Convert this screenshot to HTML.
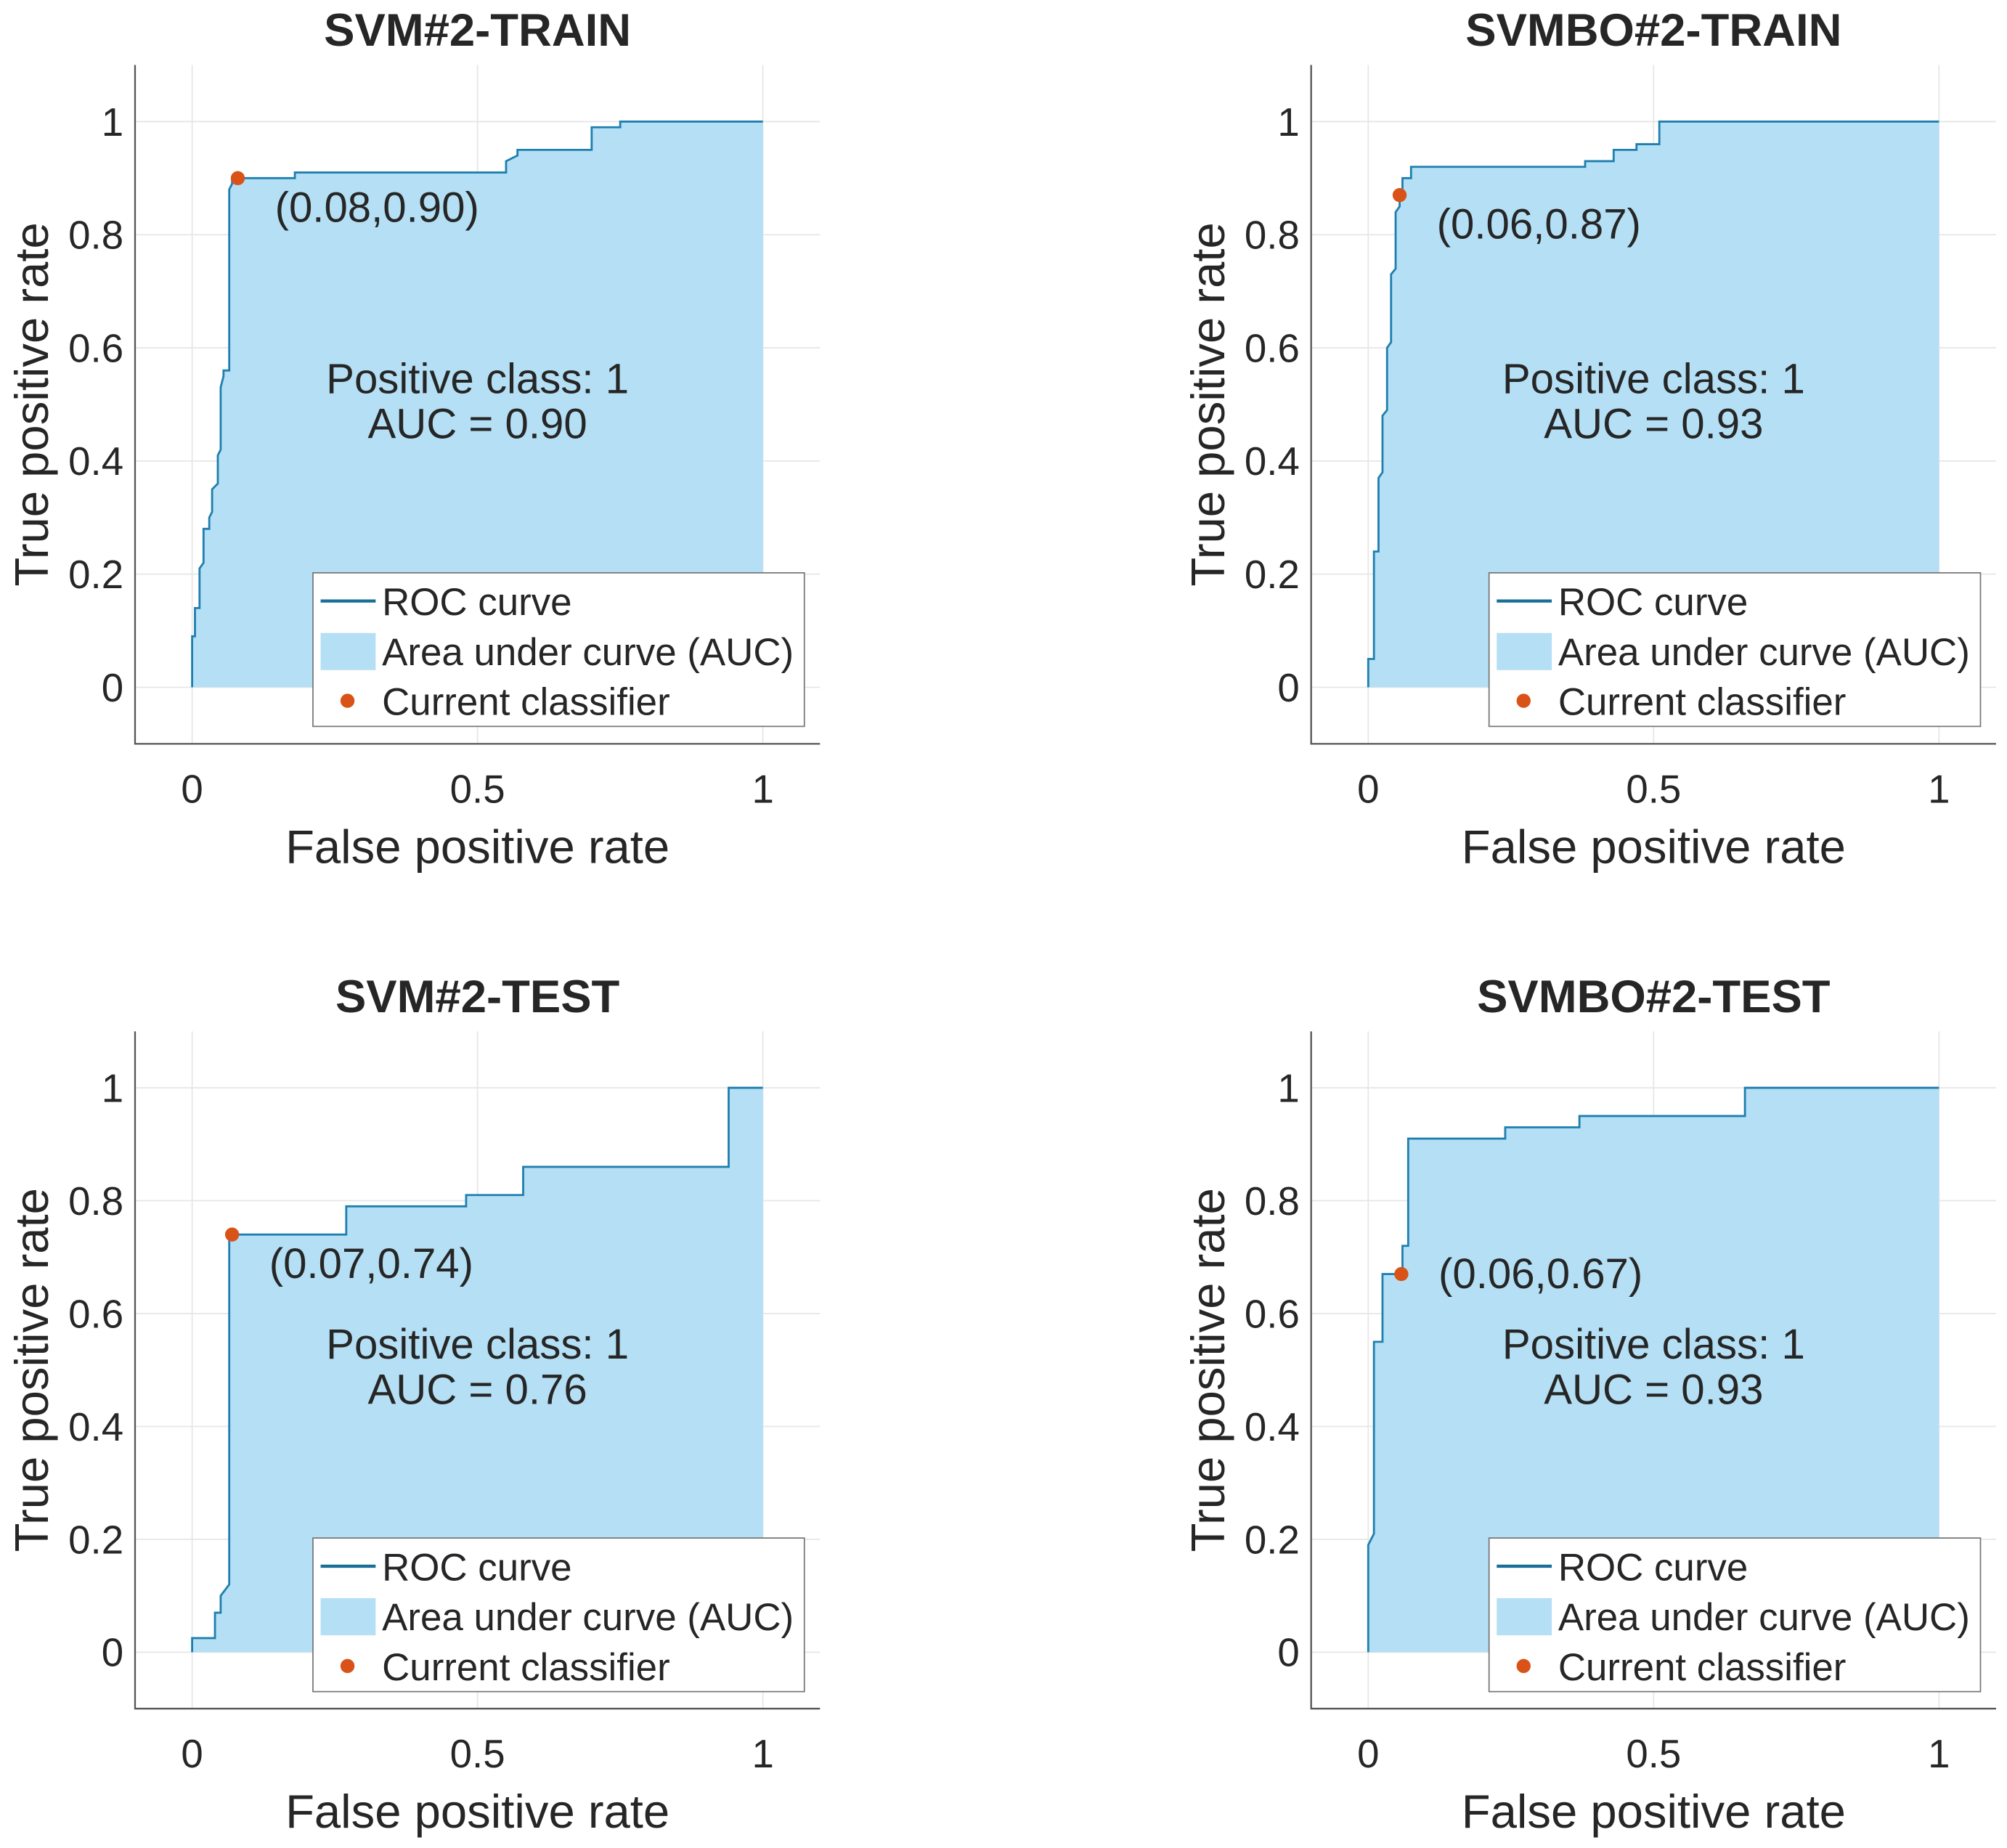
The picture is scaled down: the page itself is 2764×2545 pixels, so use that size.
<!DOCTYPE html>
<html><head><meta charset="utf-8"><style>
html,body{margin:0;padding:0;background:#fff;}
svg{display:block;}
text{font-family:"Liberation Sans",Arial,sans-serif;fill:#262626;}
</style></head>
<body>
<svg id="fig" width="2764" height="2545" viewBox="0 0 1568 1444" xmlns="http://www.w3.org/2000/svg"></svg>
<script>
// ---- Data ----
const titles = ["SVM#2-TRAIN", "SVMBO#2-TRAIN", "SVM#2-TEST", "SVMBO#2-TEST"];
const aucLabels = ["0.90", "0.93", "0.76", "0.93"];
const fpr1 = [0,0,0.005,0.005,0.013,0.013,0.02,0.02,0.03,0.03,0.035,0.035,0.045,0.045,0.05,0.05,0.055,0.055,0.065,0.065,0.07,0.07,0.18,0.18,0.55,0.55,0.57,0.57,0.70,0.70,0.75,0.75,1];
const tpr1 = [0,0.09,0.09,0.14,0.14,0.21,0.22,0.28,0.28,0.30,0.31,0.35,0.36,0.41,0.42,0.53,0.55,0.56,0.56,0.88,0.89,0.90,0.90,0.91,0.91,0.93,0.94,0.95,0.95,0.99,0.99,1,1];
const fpr2 = [0,0,0.01,0.01,0.018,0.018,0.025,0.025,0.033,0.033,0.04,0.04,0.048,0.048,0.055,0.055,0.06,0.06,0.075,0.075,0.38,0.38,0.43,0.43,0.47,0.47,0.51,0.51,1];
const tpr2 = [0,0.05,0.05,0.24,0.24,0.37,0.38,0.48,0.49,0.60,0.61,0.73,0.74,0.84,0.85,0.87,0.87,0.90,0.90,0.92,0.92,0.93,0.93,0.95,0.95,0.96,0.96,1,1];
const fpr3 = [0,0,0.04,0.04,0.05,0.05,0.065,0.065,0.07,0.07,0.27,0.27,0.48,0.48,0.58,0.58,0.94,0.94,1];
const tpr3 = [0,0.025,0.025,0.07,0.07,0.10,0.12,0.73,0.73,0.74,0.74,0.79,0.79,0.81,0.81,0.86,0.86,1,1];
const fpr4 = [0,0,0.01,0.01,0.025,0.025,0.06,0.06,0.07,0.07,0.24,0.24,0.37,0.37,0.66,0.66,1];
const tpr4 = [0,0.19,0.21,0.55,0.55,0.67,0.67,0.72,0.72,0.91,0.91,0.93,0.93,0.95,0.95,1,1];
const opX = [0.08, 0.055, 0.07, 0.058];
const opY = [0.90, 0.87, 0.74, 0.67];
const opLabels = ["(0.08,0.90)", "(0.06,0.87)", "(0.07,0.74)", "(0.06,0.67)"];
const xTicks = [0, 0.5, 1];
const xTickLabels = ["0", "0.5", "1"];
const yTicks = [0, 0.2, 0.4, 0.6, 0.8, 1];
const yTickLabels = ["0", "0.2", "0.4", "0.6", "0.8", "1"];

// ---- Drawing ----
const NS = "http://www.w3.org/2000/svg";
const svg = document.getElementById("fig");
function mk(tag, attrs, parent, txt){
  const e = document.createElementNS(NS, tag);
  for (const k in attrs) e.setAttribute(k, attrs[k]);
  if (txt !== undefined) e.textContent = txt;
  parent.appendChild(e);
  return e;
}
const panels = [
  {x0:150, x1:596, y0:537, y1:95, fx:fpr1, ty:tpr1, ldy:34},
  {x0:1069, x1:1515, y0:537, y1:95, fx:fpr2, ty:tpr2, ldy:34},
  {x0:150, x1:596, y0:1291, y1:850, fx:fpr3, ty:tpr3, ldy:34},
  {x0:1069, x1:1515, y0:1291, y1:850, fx:fpr4, ty:tpr4, ldy:11}
];
panels.forEach((p, i) => {
  const sx = v => p.x0 + v * (p.x1 - p.x0);
  const sy = v => p.y0 + v * (p.y1 - p.y0);
  const g = mk("g", {}, svg);
  
  
  const L = sx(-0.1), R = sx(1.1), T = sy(1.1), B = sy(-0.1);
  xTicks.forEach(t => {
    const l = mk("line", {x1:sx(t), x2:sx(t), y1:T, y2:B, stroke:"#e6e6e6", "stroke-width":1}, g);
    
    
  });
  yTicks.forEach(t => {
    const l = mk("line", {x1:L, x2:R, y1:sy(t), y2:sy(t), stroke:"#e6e6e6", "stroke-width":1}, g);
    
    
  });
  let d = "M" + sx(p.fx[0]) + "," + sy(0);
  for (let k = 0; k < p.fx.length; k++) d += " L" + sx(p.fx[k]) + "," + sy(p.ty[k]);
  d += " L" + sx(p.fx[p.fx.length-1]) + "," + sy(0) + " Z";
  const area = mk("path", {d:d, fill:"#b4dff4", stroke:"none"}, g);
  
  
  let dl = "";
  for (let k = 0; k < p.fx.length; k++) dl += (k ? " L" : "M") + sx(p.fx[k]) + "," + sy(p.ty[k]);
  const line = mk("path", {d:dl, fill:"none", stroke:"#1f7fae", "stroke-width":1.6}, g);
  
  
  const ax = mk("path", {d:`M${L},${T} L${L},${B} L${R},${B}`, fill:"none", stroke:"#555", "stroke-width":1.3}, g);
  
  
  xTicks.forEach((t, k) => {
    const tx = mk("text", {x:sx(t), y:B+46, "font-size":31, "text-anchor":"middle"}, g, xTickLabels[k]);
    
    
  });
  yTicks.forEach((t, k) => {
    const tx = mk("text", {x:L-9, y:sy(t)+11, "font-size":31, "text-anchor":"end"}, g, yTickLabels[k]);
    
    
  });
  const xt = mk("text", {x:sx(0.5), y:B+93, "font-size":37, "text-anchor":"middle"}, g, "False positive rate");
  
  
  const cy = (T + B) / 2;
  const yt = mk("text", {x:0, y:0, "font-size":37, "text-anchor":"middle", transform:`translate(${L-68},${cy}) rotate(-90)`}, g, "True positive rate");
  
  
  const tt = mk("text", {x:sx(0.5), y:T-15, "font-size":36, "font-weight":"bold", "text-anchor":"middle", fill:"#000"}, g, titles[i]);
  
  
  const a1 = mk("text", {x:sx(0.5), y:sy(0.52), "font-size":33, "text-anchor":"middle"}, g, "Positive class: 1");
  
  
  const a2 = mk("text", {x:sx(0.5), y:sy(0.44), "font-size":33, "text-anchor":"middle"}, g, "AUC = " + aucLabels[i]);
  
  
  const dot = mk("circle", {cx:sx(opX[i]), cy:sy(opY[i]), r:5.5, fill:"#d95319"}, g);
  
  
  const ol = mk("text", {x:sx(opX[i])+29, y:sy(opY[i])+p.ldy, "font-size":33}, g, opLabels[i]);
  
  
  const lx = L + 139, ly = sy(0.2) - 1;
  const lg = mk("g", {}, g);
  
  
  mk("rect", {x:lx, y:ly, width:384, height:120, fill:"#fff", stroke:"#777", "stroke-width":1}, lg);
  mk("line", {x1:lx+6, x2:lx+49, y1:ly+22, y2:ly+22, stroke:"#1a6f99", "stroke-width":2.5}, lg);
  const e1 = mk("text", {x:lx+54, y:ly+33, "font-size":30}, lg, "ROC curve");
  
  
  mk("rect", {x:lx+6, y:ly+47, width:43, height:29, fill:"#b4dff4"}, lg);
  const e2 = mk("text", {x:lx+54, y:ly+72, "font-size":30}, lg, "Area under curve (AUC)");
  
  
  mk("circle", {cx:lx+27, cy:ly+100, r:5.5, fill:"#d95319"}, lg);
  const e3 = mk("text", {x:lx+54, y:ly+111, "font-size":30}, lg, "Current classifier");
  
  
});
</script>
</body></html>
